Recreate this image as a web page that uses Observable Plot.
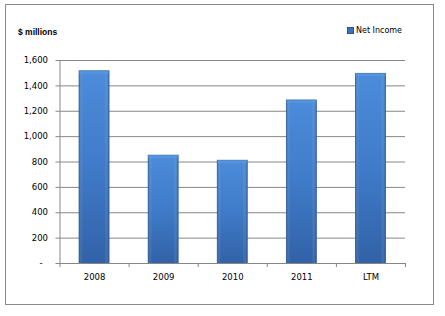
<!DOCTYPE html>
<html>
<head>
<meta charset="utf-8">
<script src="https://cdn.jsdelivr.net/npm/d3@7"></script>
<script src="https://cdn.jsdelivr.net/npm/@observablehq/plot@0.6"></script>
<style>
  html, body { margin: 0; padding: 0; background: #fff; }
  #wrap { position: relative; width: 445px; height: 316px; overflow: hidden; }
  #frame { position: absolute; left: 5px; top: 4px; width: 427px; height: 299px; border: 1px solid #8a8a8a; box-sizing: content-box; pointer-events: none; }
  #unit { position: absolute; left: 18px; top: 27px; font: bold 8.5px "Liberation Sans", Arial, sans-serif; color: #000; }
  #legend { position: absolute; left: 347px; top: 26px; font: 8px "DejaVu Sans", sans-serif; color: #000; display: flex; align-items: center; gap: 2px; }
  #legend .sw { width: 5px; height: 5px; background: #3d72bd; border: 0.5px solid #2a548f; }
  #chart { position: absolute; left: 0; top: 0; }
</style>
</head>
<body>
<div id="wrap">
  <div id="chart"></div>
  <div id="frame"></div>
  <div id="unit">$ millions</div>
  <div id="legend"><span class="sw"></span><span>Net Income</span></div>
</div>
<script>
const categories = ["2008", "2009", "2010", "2011", "LTM"];
const netIncome = [1515, 850, 810, 1285, 1495];
const yTicks = [0, 200, 400, 600, 800, 1000, 1200, 1400, 1600];
const seriesName = "Net Income";

const data = categories.map((c, i) => ({cat: c, idx: i, value: netIncome[i]}));
const gap = 0.283;

const defs = () => {
  const g = d3.create("svg:defs");
  const lg = g.append("linearGradient").attr("id", "barGrad").attr("x1", 0).attr("y1", 0).attr("x2", 0).attr("y2", 1);
  lg.append("stop").attr("offset", "0%").attr("stop-color", "#4c8cda");
  lg.append("stop").attr("offset", "50%").attr("stop-color", "#3f7bc8");
  lg.append("stop").attr("offset", "100%").attr("stop-color", "#3262a7");
  const hg = g.append("linearGradient").attr("id", "barShade").attr("x1", 0).attr("y1", 0).attr("x2", 1).attr("y2", 0);
  hg.append("stop").attr("offset", "0%").attr("stop-color", "#1d3f70").attr("stop-opacity", 0.35);
  hg.append("stop").attr("offset", "12%").attr("stop-color", "#ffffff").attr("stop-opacity", 0.0);
  hg.append("stop").attr("offset", "85%").attr("stop-color", "#ffffff").attr("stop-opacity", 0.0);
  hg.append("stop").attr("offset", "100%").attr("stop-color", "#1d3f70").attr("stop-opacity", 0.35);
  return g.node();
};

const chart = Plot.plot({
  width: 445,
  height: 316,
  marginLeft: 59.5,
  marginRight: 40,
  marginTop: 60,
  marginBottom: 53,
  style: {fontFamily: "DejaVu Sans, sans-serif", fontSize: "8.5px", color: "#000", background: "transparent"},
  x: {domain: [0, categories.length], axis: null},
  y: {domain: [0, 1600], axis: null},
  marks: [
    defs,
    Plot.gridY(yTicks, {stroke: "#868686", strokeOpacity: 1, strokeWidth: 1}),
    Plot.rectY(data, {x1: d => d.idx + gap, x2: d => d.idx + 1 - gap, y: "value", fill: "url(#barGrad)", stroke: "#35649f", strokeWidth: 0.8}),
    Plot.rectY(data, {x1: d => d.idx + gap, x2: d => d.idx + 1 - gap, y: "value", fill: "url(#barShade)"}),
    Plot.rectY(data, {x1: d => d.idx + gap, x2: d => d.idx + 1 - gap, y1: d => d.value, y2: d => d.value - 22, fill: "#5b9be6", fillOpacity: 0.55}),
    Plot.axisY({ticks: yTicks, label: null, tickSize: 4, tickPadding: 8, stroke: "#868686", tickFormat: d => d === 0 ? "-\u2007" : d3.format(",")(d), fill: "#000"}),
    Plot.ruleX([0], {stroke: "#868686"}),
    Plot.ruleY([0], {stroke: "#868686"}),
    Plot.axisX({ticks: d3.range(categories.length + 1), label: null, tickSize: 4, tickFormat: () => "", stroke: "#868686"}),
    Plot.axisX({ticks: categories.map((c, i) => i + 0.5), label: null, tickSize: 0, tickPadding: 10, tickFormat: (d) => categories[Math.floor(d)], fill: "#000"})
  ]
});
document.getElementById("chart").appendChild(chart);
</script>
</body>
</html>
